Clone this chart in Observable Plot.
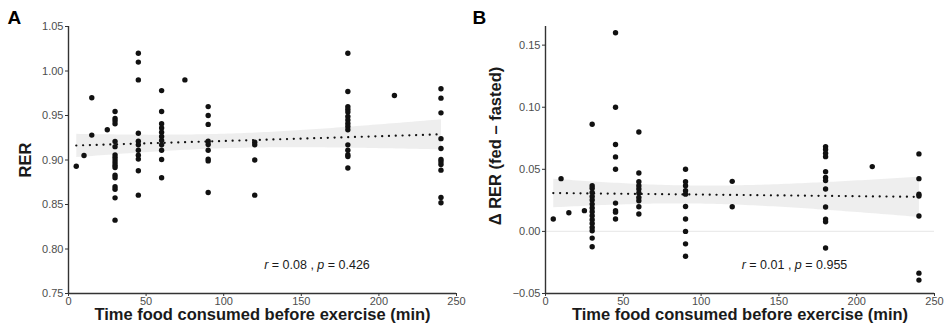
<!DOCTYPE html>
<html><head><meta charset="utf-8">
<script src="https://cdn.jsdelivr.net/npm/d3@7"></script>
<script src="https://cdn.jsdelivr.net/npm/@observablehq/plot@0.6"></script>
<style>
html,body{margin:0;padding:0;background:#fff;}
#wrap{display:flex;width:944px;height:331px;overflow:hidden;}
</style></head><body><div id="wrap"></div>
<script>
// Time food consumed before exercise (min)
const times = [5, 10, 15, 25, 30, 45, 60, 75, 90, 120, 180, 210, 240];
const xTicks = [0, 50, 100, 150, 200, 250];

// Panel A: RER values per time group
const rerA = [
  [0.893],
  [0.905],
  [0.970, 0.928],
  [0.934],
  [0.9545, 0.9466, 0.944, 0.9407, 0.9208, 0.915, 0.9058, 0.903, 0.900, 0.897, 0.894, 0.8916, 0.883, 0.880, 0.870, 0.8672, 0.8575, 0.8324],
  [1.020, 1.010, 0.990, 0.930, 0.921, 0.917, 0.911, 0.9054, 0.901, 0.888, 0.8605],
  [0.978, 0.9545, 0.9407, 0.936, 0.9313, 0.9264, 0.922, 0.917, 0.911, 0.9006, 0.880],
  [0.990],
  [0.960, 0.950, 0.940, 0.921, 0.9175, 0.911, 0.901, 0.899, 0.8635],
  [0.920, 0.917, 0.900, 0.8605],
  [1.020, 0.977, 0.960, 0.957, 0.954, 0.949, 0.945, 0.941, 0.9376, 0.934, 0.917, 0.911, 0.906, 0.904, 0.891],
  [0.9725],
  [0.980, 0.9695, 0.953, 0.924, 0.913, 0.9006, 0.898, 0.895, 0.8886, 0.858, 0.852]
];
const yTicksA = [0.75, 0.80, 0.85, 0.90, 0.95, 1.00, 1.05];

// Panel B: delta RER (fed - fasted) per time group
const dRerB = [
  [0.010],
  [0.0425],
  [0.015],
  [0.0167],
  [0.0863, 0.0368, 0.0347, 0.0314, 0.0282, 0.0253, 0.0220, 0.0188, 0.0159, 0.0126, 0.0094, 0.0064, 0.0032, 0.0005, -0.0054, -0.0124],
  [0.160, 0.100, 0.070, 0.060, 0.050, 0.0228, 0.0167, 0.0155, 0.010],
  [0.080, 0.047, 0.040, 0.0368, 0.0342, 0.031, 0.0274, 0.0247, 0.0199, 0.014],
  [],
  [0.050, 0.040, 0.0368, 0.0328, 0.030, 0.020, 0.010, 0.000, -0.010, -0.020],
  [0.0403, 0.0199],
  [0.0683, 0.0659, 0.0629, 0.0602, 0.0481, 0.0435, 0.0409, 0.0341, 0.0196, 0.0099, 0.0078, -0.0134],
  [0.0522],
  [0.0624, 0.0425, 0.030, 0.0285, 0.0124, -0.0336, -0.0392]
];
const yTicksB = [-0.05, 0.00, 0.05, 0.10, 0.15];

const statsA = {r: "0.08", p: "0.426"};
const statsB = {r: "0.01", p: "0.955"};
const xTitle = "Time food consumed before exercise (min)";
const yTitleA = "RER";
const yTitleB = "\u0394 RER (fed \u2013 fasted)";

const flat = (groups) => groups.flatMap((vals, i) => vals.map(v => ({t: times[i], v})));
const FONT = '"Liberation Sans", Arial, Helvetica, sans-serif';

function panel({data, letter, yDomain, yTicks, yTitle, stats, ml, mr, yTitleDx, yTitleDy, letterDx, zeroLine}) {
  const annot = `r = ${stats.r} , p = ${stats.p}`;
  const svg = Plot.plot({
    width: 472, height: 331,
    marginLeft: ml, marginRight: mr, marginTop: 26, marginBottom: 38,
    x: {domain: [0, 250]},
    y: {domain: yDomain},
    style: {fontFamily: FONT, background: "white", overflow: "visible"},
    marks: [
      zeroLine ? Plot.ruleY([0], {stroke: "#ebebeb", strokeWidth: 1.2}) : null,
      Plot.linearRegressionY(data, {x: "t", y: "v", stroke: "#111", strokeWidth: 2.2,
        strokeDasharray: "0.1,6.7", strokeLinecap: "round", fill: "#9a9a9a", fillOpacity: 0.17}),
      Plot.dot(data, {x: "t", y: "v", r: 2.7, fill: "#111", stroke: "none"}),
      Plot.axisX({ticks: xTicks, tickSize: 3, tickPadding: 1, stroke: "#333", fill: "#4d4d4d", fontSize: 11, label: null}),
      Plot.axisY({ticks: yTicks, tickFormat: d3.format(".2f"), tickSize: 3, tickPadding: 2, stroke: "#333", fill: "#4d4d4d", fontSize: 11, label: null}),
      Plot.ruleX([0], {stroke: "#333", strokeWidth: 1.4}),
      Plot.ruleY([yDomain[0]], {stroke: "#333", strokeWidth: 1.4}),
      Plot.text([xTitle], {frameAnchor: "bottom", dy: 26.5, fontSize: 16.5, fontWeight: "bold", fill: "#1a1a1a"}),
      Plot.text([yTitle], {frameAnchor: "left", textAnchor: "middle", rotate: -90, dx: yTitleDx, dy: yTitleDy, fontSize: 16.5, fontWeight: "bold", fill: "#1a1a1a"}),
      Plot.text([letter], {frameAnchor: "top-left", textAnchor: "start", lineAnchor: "middle", dx: letterDx, dy: -8.5, fontSize: 19, fontWeight: "bold", fill: "#000"}),
      Plot.text([annot], {frameAnchor: "bottom", dx: 54.5, dy: -25, fontSize: 12.5, fill: "#1a1a1a"})
    ]
  });
  d3.select(svg).selectAll("text").filter(function() { return this.textContent === annot; })
    .each(function() {
      const t = d3.select(this);
      t.text(null);
      t.append("tspan").attr("font-style", "italic").text("r");
      t.append("tspan").text(` = ${stats.r} , `);
      t.append("tspan").attr("font-style", "italic").text("p");
      t.append("tspan").text(` = ${stats.p}`);
    });
  return svg;
}

const wrap = document.getElementById("wrap");
wrap.append(panel({data: flat(rerA), letter: "A", yDomain: [0.75, 1.05], yTicks: yTicksA, yTitle: yTitleA,
  stats: statsA, ml: 68, mr: 16, yTitleDx: -43, yTitleDy: 0, letterDx: -61, zeroLine: false}));
wrap.append(panel({data: flat(dRerB), letter: "B", yDomain: [-0.05, 0.165], yTicks: yTicksB, yTitle: yTitleB,
  stats: statsB, ml: 73, mr: 10, yTitleDx: -50, yTitleDy: -14, letterDx: -73, zeroLine: true}));
</script>
</body></html>
